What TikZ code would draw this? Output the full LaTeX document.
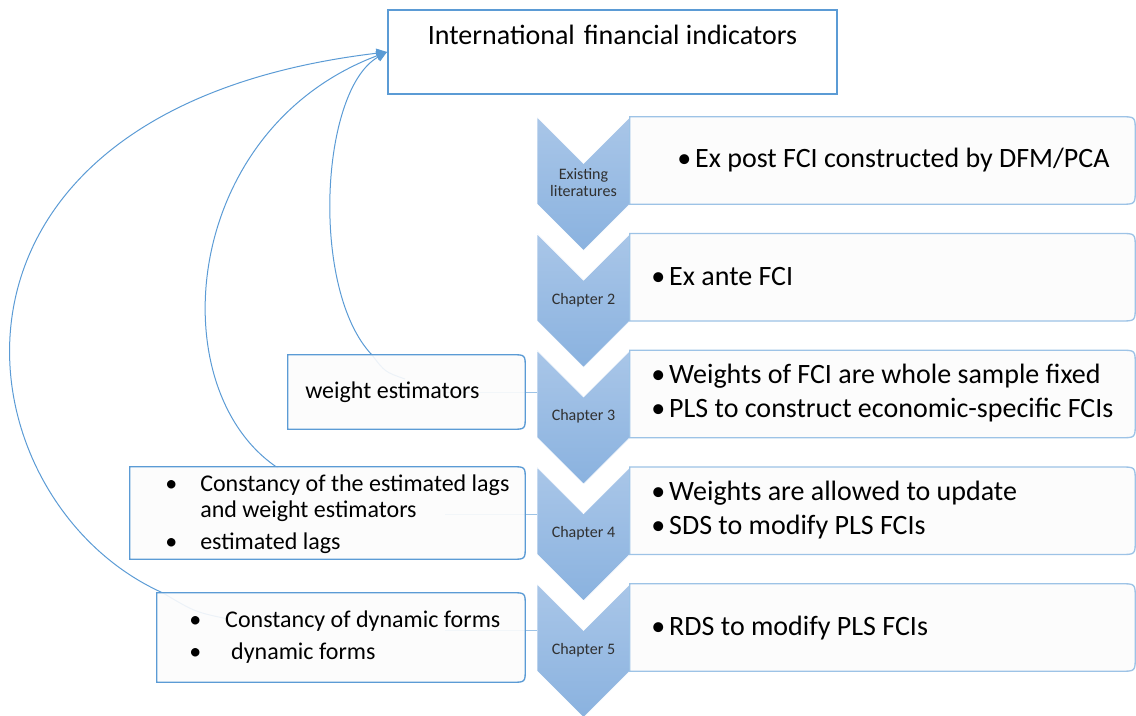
\documentclass[tikz,border=0pt]{standalone}
\usepackage{fontspec}
\setmainfont{Carlito}
\usetikzlibrary{arrows.meta}
\definecolor{bordblue}{HTML}{5B9BD5}
\definecolor{lightblue}{HTML}{9DC3E6}
\definecolor{boxfill}{HTML}{FCFCFC}
\definecolor{chevtop}{HTML}{A9C6E8}
\definecolor{chevbot}{HTML}{8AB2DF}
\definecolor{chevtext}{HTML}{303030}
\newcommand\halfrounded[3]{%
  \path[#1] (#2.south west) -- (#2.north west) -- ([xshift=-#3]#2.north east)
    .. controls (#2.north east) .. ([yshift=-#3]#2.north east)
    -- ([yshift=#3]#2.south east)
    .. controls (#2.south east) .. ([xshift=-#3]#2.south east) -- cycle;}
\tikzset{
  topbox/.style={draw=bordblue, line width=1.5pt, fill=white, minimum width=336.75pt, minimum height=63pt, inner sep=0pt},
  holder/.style={inner sep=0pt, draw=none, fill=none},
  rboxline/.style={draw=lightblue, line width=1pt, fill=boxfill},
  lboxline/.style={draw=bordblue, line width=1pt, fill=boxfill, fill opacity=0.9},
  chev/.style={top color=chevtop, bottom color=chevbot, draw=white, line width=0.4pt},
  chevlabel/.style={font=\fontsize{12}{12.75}\selectfont, text=chevtext, align=center, minimum width=69.75pt, inner sep=0pt},
  rtext/.style={font=\fontsize{21}{25.5}\selectfont, anchor=west, align=left, inner sep=0pt},
  ltext/.style={font=\fontsize{18}{19.5}\selectfont, anchor=west, align=left, inner sep=0pt},
  toptext/.style={font=\fontsize{21}{25}\selectfont, anchor=base, inner sep=0pt},
  curvearrow/.style={draw=bordblue, line width=0.75pt, -{Triangle[length=8pt,width=7pt]}},
  link/.style={draw=lightblue, line width=0.6pt},
}
\begin{document}
\begin{tikzpicture}[x=0.75pt, y=-0.75pt]
\useasboundingbox (0,0) rectangle (1136,716);
% chevrons
\foreach \yt in {117,233.75,350.5,467.25,584} {
  \path[chev] (537,\yt) -- (583.5,\yt+46.5) -- (630,\yt) -- (630,\yt+87)
    -- (583.5,\yt+133.5) -- (537,\yt+87) -- cycle;
}
\node[chevlabel] (c1) at (583.5,182.5) {Existing\\literatures};
\node[chevlabel] (c2) at (583.5,299.75) {Chapter 2};
\node[chevlabel] (c3) at (583.5,416.5) {Chapter 3};
\node[chevlabel] (c4) at (583.5,533.25) {Chapter 4};
\node[chevlabel] (c5) at (583.5,650) {Chapter 5};
% top box
\node[topbox] (top) at (612.5,52) {};
\node[toptext] (toptxt) at (612.5,45) {International\hspace{2pt} financial indicators};
% right boxes (holders)
\node[holder, minimum width=378.75pt, minimum height=65.25pt] (rb1) at (882.5,160.5) {};
\node[holder, minimum width=378.75pt, minimum height=65.25pt] (rb2) at (882.5,277.25) {};
\node[holder, minimum width=378.75pt, minimum height=65.25pt] (rb3) at (882.5,394) {};
\node[holder, minimum width=378.75pt, minimum height=65.25pt] (rb4) at (882.5,510.75) {};
\node[holder, minimum width=378.75pt, minimum height=65.25pt] (rb5) at (882.5,627.5) {};
\foreach \n in {rb1,rb2,rb3,rb4,rb5} { \halfrounded{rboxline}{\n}{11pt} }
% left boxes (holders)
\node[holder, minimum width=177.75pt, minimum height=55.5pt] (lb3) at (406.5,392) {};
\node[holder, minimum width=296.25pt, minimum height=69pt] (lb4) at (327.5,513) {};
\node[holder, minimum width=276pt, minimum height=66.75pt] (lb5) at (341,637.5) {};
% curved feedback arrows
\coordinate (s3) at (405,379);
\coordinate (s4) at (278,468);
\coordinate (s5) at (228,619);
\draw[curvearrow] (s3) .. controls (385,372) .. (372,355)
  .. controls (310,290) and (320,90) .. (top.west);
\draw[curvearrow] (s4) .. controls (160,390) and (180,130) .. (top.west);
\draw[curvearrow] (s5) .. controls (195,612) .. (163,593)
  .. controls (-45,500) and (-100,110) .. (top.west);
% links to chevrons
\draw[link] ([xshift=-60pt]lb3.east) -- (lb3.east -| c3.west);
\draw[link] ([xshift=-60pt,yshift=-1pt]lb4.east) -- ([yshift=-1pt]lb4.east -| c4.west);
\draw[link] ([xshift=-60pt,yshift=5pt]lb5.east) -- ([yshift=5pt]lb5.east -| c5.west);
% left box outlines
\halfrounded{lboxline}{lb3}{10pt}
\halfrounded{lboxline}{lb4}{10pt}
\halfrounded{lboxline}{lb5}{10pt}
% right texts
\node[rtext] (rt1) at (677,160) {\makebox[13.5pt][l]{•}Ex post FCI constructed by DFM/PCA};
\node[rtext] (rt2) at (651,277) {\makebox[13.5pt][l]{•}Ex ante FCI};
\node[rtext] (rt3) at (651,393) {\makebox[13.5pt][l]{•}Weights of FCI are whole sample fixed\\\makebox[13.5pt][l]{•}PLS to construct economic-specific FCIs};
\node[rtext] (rt4) at (651,510) {\makebox[13.5pt][l]{•}Weights are allowed to update\\\makebox[13.5pt][l]{•}SDS to modify PLS FCIs};
\node[rtext] (rt5) at (651,628) {\makebox[13.5pt][l]{•}RDS to modify PLS FCIs};
% left texts
\node[ltext] (lt3) at (305,392) {weight estimators};
\node[ltext] (lt4) at (165,514) {\makebox[26.25pt][l]{•}Constancy of the estimated lags\\\hspace*{26.25pt}and weight estimators\\[4.5pt]\makebox[26.25pt][l]{•}estimated lags};
\node[ltext] (lt5) at (189,637) {\makebox[27pt][l]{•}Constancy of dynamic forms\\[4.5pt]\makebox[27pt][l]{•}\hspace*{4.5pt}dynamic forms};
\end{tikzpicture}
\end{document}
